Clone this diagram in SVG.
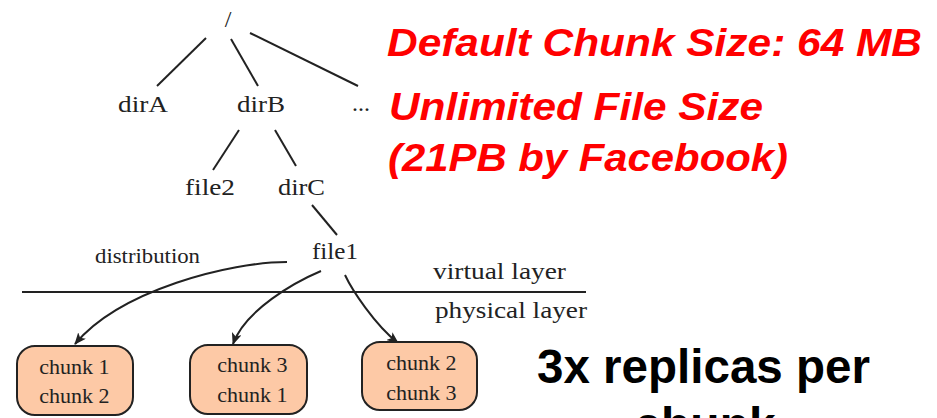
<svg xmlns="http://www.w3.org/2000/svg" width="937" height="418" viewBox="0 0 937 418">
<defs>
<style>
.t{font-family:"Liberation Serif","Times New Roman",serif;font-size:24px;fill:#222}
.c{font-family:"Liberation Serif","Times New Roman",serif;font-size:22px;fill:#222;text-anchor:middle}
.red{font-family:"Liberation Sans",Arial,sans-serif;font-size:38.5px;font-weight:bold;font-style:italic;fill:#ff0000}
.blk{font-family:"Liberation Sans",Arial,sans-serif;font-size:48px;font-weight:bold;fill:#000}
.ln{stroke:#222;stroke-width:2;fill:none}
.box{fill:#fdc9a6;stroke:#222;stroke-width:2}
</style>
<marker id="ah" viewBox="0 0 12 10" refX="11" refY="5" markerWidth="12" markerHeight="10" markerUnits="userSpaceOnUse" orient="auto">
<path d="M0,0 L12,5 L0,10 L3,5 z" fill="#222"/>
</marker>
</defs>
<rect width="937" height="418" fill="#fff"/>
<g id="connectors">
<line class="ln" x1="206" y1="38" x2="157" y2="86"/>
<line class="ln" x1="231" y1="39" x2="258" y2="86"/>
<line class="ln" x1="250" y1="33" x2="358" y2="86"/>
<line class="ln" x1="239" y1="130" x2="213" y2="170"/>
<line class="ln" x1="275" y1="130" x2="296" y2="166"/>
<line class="ln" x1="312" y1="205" x2="337" y2="235"/>
<path class="ln" d="M287,262 C230,262 120,290 75,344" marker-end="url(#ah)"/>
<path class="ln" d="M321,271 C295,282 245,310 233,344" marker-end="url(#ah)"/>
<path class="ln" d="M345,275 C352,290 375,325 398,343" marker-end="url(#ah)"/>
</g>
<g id="layer-line">
<line x1="22" y1="292" x2="586" y2="292" stroke="#222" stroke-width="2"/>
<text class="t" x="433" y="279" textLength="133" lengthAdjust="spacingAndGlyphs">virtual layer</text>
<text class="t" x="435" y="318" textLength="152" lengthAdjust="spacingAndGlyphs">physical layer</text>
</g>
<g id="root"><text class="t" x="228" y="27" text-anchor="middle">/</text></g>
<g id="dirA"><text class="t" x="118" y="112" textLength="50" lengthAdjust="spacingAndGlyphs">dirA</text></g>
<g id="dirB"><text class="t" x="237" y="112" textLength="48" lengthAdjust="spacingAndGlyphs">dirB</text></g>
<g id="more"><text class="t" x="352" y="111" textLength="18" lengthAdjust="spacingAndGlyphs">...</text></g>
<g id="file2"><text class="t" x="185" y="195" textLength="50" lengthAdjust="spacingAndGlyphs">file2</text></g>
<g id="dirC"><text class="t" x="278" y="195" textLength="47" lengthAdjust="spacingAndGlyphs">dirC</text></g>
<g id="file1"><text class="t" x="312" y="259" textLength="46" lengthAdjust="spacingAndGlyphs">file1</text></g>
<g id="distribution-label"><text class="t" x="95" y="263" textLength="105" lengthAdjust="spacingAndGlyphs" style="font-size:22px">distribution</text></g>
<g id="chunkserver1">
<rect class="box" x="17" y="346" width="116" height="69" rx="18"/>
<text class="c" x="74.5" y="374">chunk 1</text>
<text class="c" x="74.5" y="403">chunk 2</text>
</g>
<g id="chunkserver2">
<rect class="box" x="190" y="345" width="117" height="69" rx="18"/>
<text class="c" x="252.5" y="372">chunk 3</text>
<text class="c" x="252.5" y="402">chunk 1</text>
</g>
<g id="chunkserver3">
<rect class="box" x="362" y="342" width="115" height="68" rx="18"/>
<text class="c" x="421.5" y="370">chunk 2</text>
<text class="c" x="421.5" y="400">chunk 3</text>
</g>
<g id="notes">
<text class="red" x="387" y="56" textLength="535" lengthAdjust="spacingAndGlyphs">Default Chunk Size: 64 MB</text>
<text class="red" x="389" y="120" textLength="374" lengthAdjust="spacingAndGlyphs">Unlimited File Size</text>
<text class="red" x="388" y="171" textLength="400" lengthAdjust="spacingAndGlyphs">(21PB by Facebook)</text>
<text class="blk" x="537" y="383" textLength="333" lengthAdjust="spacingAndGlyphs">3x replicas per</text>
<text class="blk" x="705" y="441" text-anchor="middle">chunk</text>
</g>
</svg>
